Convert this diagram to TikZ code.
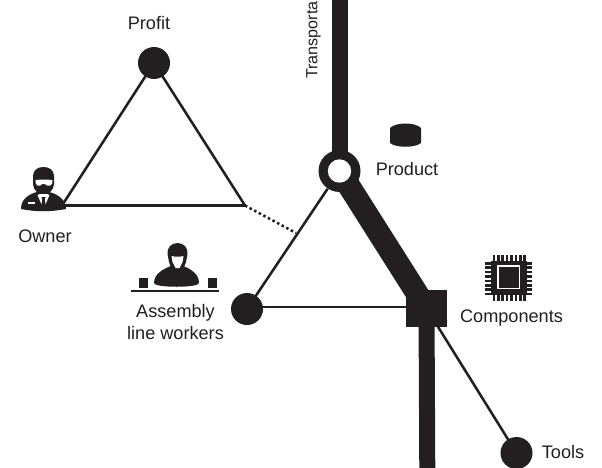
\documentclass[tikz,border=0pt]{standalone}
\usepackage{fontspec}
\setmainfont{Liberation Sans}
\definecolor{ink}{HTML}{231F20}
\tikzset{
    dot/.style={circle,fill=ink,inner sep=0pt,minimum size=24pt},
    label/.style={text=ink,font=\fontsize{13.6}{16.5}\selectfont,inner sep=0pt,align=center},
    thin line/.style={draw=ink,line width=1.9pt},
    heavy line/.style={draw=ink,line width=12pt},
    square box/.style={rectangle,fill=ink,inner sep=0pt,minimum width=31pt,minimum height=28pt},
}
\begin{document}
\begin{tikzpicture}[x=0.75pt,y=-0.75pt]
    \clip (0,0) rectangle (602,467);
    \fill[white] (0,0) rectangle (602,467);
    \coordinate (top) at (339.5,-5);
    \coordinate (bottom) at (427.3,472);
    \coordinate (ownerfoot) at (62,205.5);
    \coordinate (tip) at (245,205.5);
    \coordinate (dotend) at (296,233);
    \coordinate (squareleft) at (410,307);
    \node[dot] (profit) at (154,63) {};
    \node[dot] (workers) at (247,309) {};
    \node[dot] (tools) at (516.5,453) {};
    \node[circle,fill=ink,inner sep=0pt,minimum size=31.5pt] (hub) at (339.5,171) {};
    \node[square box] (square) at (426.5,308.3) {};
    % thick lines
    \draw[heavy line] (top) -- (hub.center);
    \draw[heavy line] (square.center) -- (bottom);
    \draw[draw=ink,line width=17pt] (hub.center) -- (square.center);
    \node[circle,fill=white,inner sep=0pt,minimum size=17.5pt] (hole) at (hub) {};
    % triangles
    \draw[thin line] (ownerfoot) -- (profit.center) -- (tip) -- (ownerfoot);
    \draw[thin line,dotted] (tip) -- (dotend);
    \draw[thin line] (hub) -- (workers.center);
    \draw[thin line] (workers.center |- squareleft) -- (squareleft);
    \draw[thin line] (square.center) -- (tools.center);
    \node[square box] at (square) {};
    % owner
    \fill[ink] (21,209) .. controls (21,198) and (30,194) .. (37,192) -- (49,192) .. controls (58,194) and (66,200) .. (66,209) .. controls (50,212) and (36,212) .. (21,209) -- cycle;
    \fill[ink] (33,176) .. controls (33,170) and (38,167) .. (43.5,167) .. controls (49,167) and (54,170) .. (54,176) -- (54,184) .. controls (54,190) and (48,195) .. (43.5,195) .. controls (39,195) and (33,190) .. (33,184) -- cycle;
    \fill[white] (35.5,180) .. controls (40,179.5) and (48,179.5) .. (52.5,180) .. controls (53,187) and (47,187) .. (45,184) -- (42,184) .. controls (40,187) and (35,187) .. (35.5,180) -- cycle;
    \fill[white] (37.5,195) -- (40,194) -- (47,194) -- (49.5,195) -- (43.5,209) -- cycle;
    \fill[ink] (41.5,197) -- (45.5,197) -- (44.7,200) -- (46,206) -- (43.5,209) -- (41,206) -- (42.3,200) -- cycle;
    \fill[white] (28,202) rectangle (35,204);
    % workers icon
    \fill[ink] (154,283) .. controls (154,274) and (163,269) .. (171,266) -- (183,266) .. controls (191,269) and (199,274) .. (199,283) .. controls (199,288) and (154,288) .. (154,283) -- cycle;
    \fill[ink] (167.5,254) .. controls (167,248) and (171,243) .. (177.5,243) .. controls (184,243) and (188,248) .. (187.5,254) -- (186,262) -- (183,270) -- (172,270) -- (169,262) -- cycle;
    \fill[white] (171.5,256) .. controls (175,257) and (180,257) .. (183.5,256) -- (182.5,262) -- (179.5,268) -- (175.5,268) -- (172.5,262) -- cycle;
    \fill[ink] (139,278) rectangle (148,288);
    \fill[ink] (208,278) rectangle (217,288);
    \draw[thin line] (131,291) -- (219,291);
    % product icon
    \fill[ink] (390,128) .. controls (396,122) and (415,122) .. (421,128) -- (421,143) .. controls (415,148) and (396,148) .. (390,143) -- cycle;
    % components icon
    \fill[ink] (490.5,261) rectangle (527,295);
    \fill[white] (497,265) rectangle (520,289);
    \fill[ink] (498.5,266.5) rectangle (518.5,287.5);
    \foreach \i in {0,...,7} {
        \fill[ink] (492.6+4.4*\i,254.5) rectangle +(2.6,7);
        \fill[ink] (492.6+4.4*\i,294.5) rectangle +(2.6,6.5);
        \fill[ink] (485,262+4.4*\i) rectangle +(6,2.6);
        \fill[ink] (526.5,262+4.4*\i) rectangle +(5.5,2.6);
    }
    % labels
    \node[label] (profitlabel) at (149,23) {Profit};
    \node[label] (ownerlabel) at (45,236.5) {Owner};
    \node[label] (workerslabel) at (175.5,322.5) {Assembly\\line workers};
    \node[label] (productlabel) at (407,169) {Product};
    \node[label] (componentslabel) at (511.5,318) {Components};
    \node[label] (toolslabel) at (563,452) {Tools};
    \node[label,font=\fontsize{12.1}{14}\selectfont,rotate=90,anchor=west] (transportlabel) at (313.5,79) {Transporta};
\end{tikzpicture}
\end{document}
